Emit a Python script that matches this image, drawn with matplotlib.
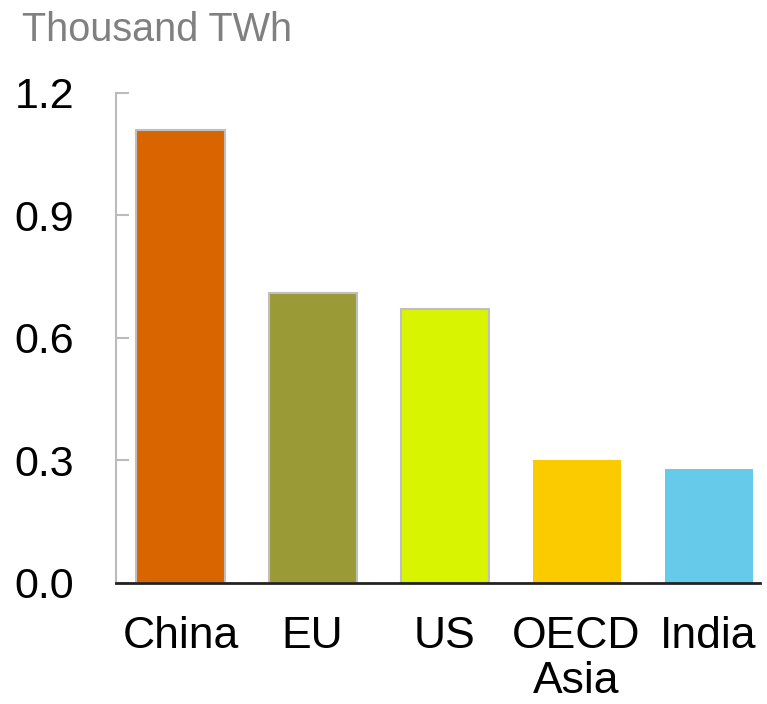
import matplotlib
matplotlib.use('Agg')
import matplotlib.pyplot as plt

regions = ['China', 'EU', 'US', 'OECD\nAsia', 'India']
values = [1.11, 0.71, 0.67, 0.30, 0.28]
colors = ['#D86500', '#9A9A36', '#D8F400', '#FBCB00', '#66CBEB']
edges = ['#BFBFBF', '#BFBFBF', '#BFBFBF', 'none', 'none']
yticks = [0.0, 0.3, 0.6, 0.9, 1.2]

plt.rcParams['font.family'] = ['Liberation Sans', 'DejaVu Sans']

fig = plt.figure(figsize=(7.67, 7.04), dpi=100)
ax = fig.add_axes([0.151, 0.172, 0.840, 0.696])

x = range(len(regions))
ax.bar(x, values, width=0.667, color=colors, edgecolor=edges, linewidth=1.5, zorder=2)

ax.set_xlim(-0.49, 4.39)
ax.set_ylim(0, 1.2)
ax.set_yticks(yticks)
ax.set_yticklabels([f'{t:.1f}' for t in yticks], fontsize=31)
ax.set_xticks(list(x))
ax.set_xticklabels(regions, fontsize=32, linespacing=1.12)

ax.tick_params(axis='y', direction='in', length=9, width=1.5, color='#BBBBBB', pad=30)
ax.tick_params(axis='x', length=0, pad=24)

for s in ['top', 'right']:
    ax.spines[s].set_visible(False)
ax.spines['left'].set_color('#BBBBBB')
ax.spines['left'].set_linewidth(1.5)
ax.spines['bottom'].set_color('#222222')
ax.spines['bottom'].set_linewidth(2)
ax.spines['bottom'].set_zorder(3)

fig.text(0.029, 0.958, 'Thousand TWh', fontsize=28.5, color='#808080', va='center', ha='left')

fig.savefig('out.png', dpi=100)
